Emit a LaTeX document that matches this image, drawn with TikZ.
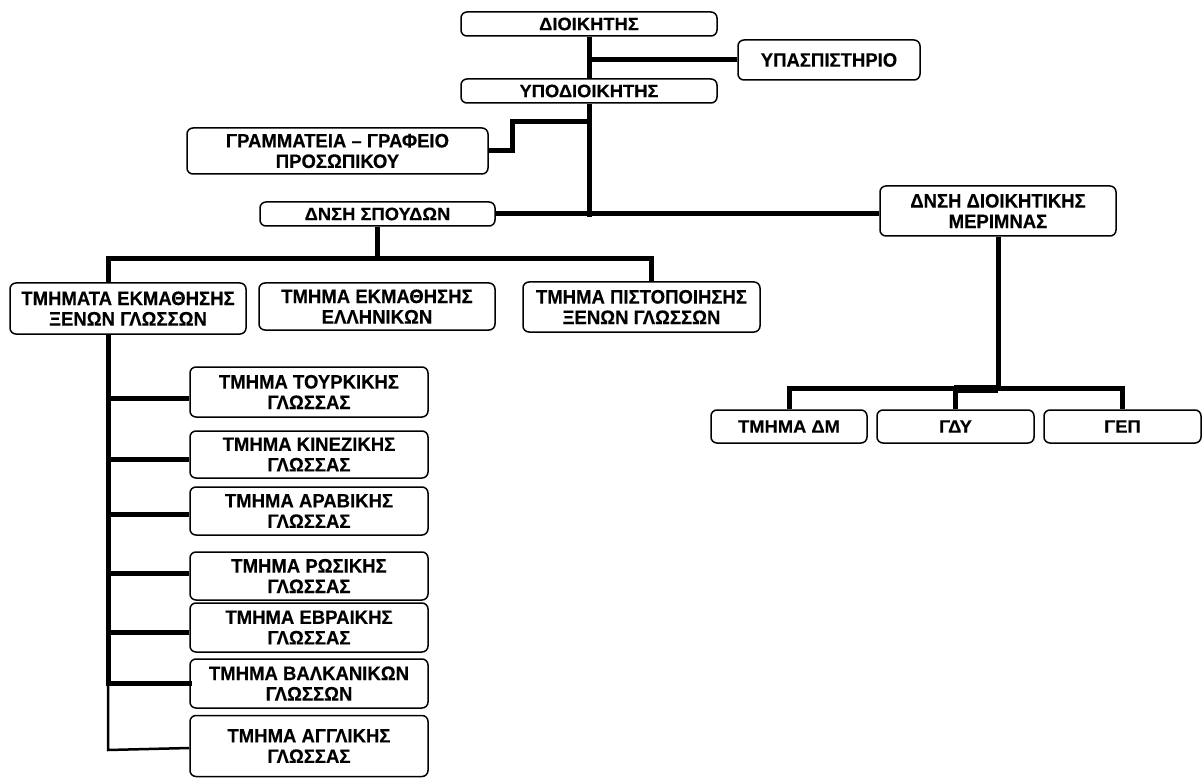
\documentclass[tikz,border=0pt]{standalone}
\usepackage{fontspec}
\setmainfont{Liberation Sans}[FakeBold=0.3]
\newfontfamily\tallfont{Liberation Sans}[FakeStretch=0.95, FakeBold=0.3]
\newfontfamily\widefont{Liberation Sans}[FakeStretch=1.02, FakeBold=0.3]
\usetikzlibrary{calc}
\begin{document}
\begin{tikzpicture}[x=1pt,y=-1pt,
  box/.style={draw, line width=1.5pt, rounded corners=6pt, inner sep=0pt, align=center,
    font=\tallfont\fontsize{19.5}{20.5}\selectfont\bfseries},
  small/.style={font=\widefont\fontsize{18}{19}\selectfont\bfseries},
  conn/.style={line width=5pt, line cap=butt},
  thinconn/.style={line width=2.5pt}]
\useasboundingbox (0,0) rectangle (1203,778);
% boxes
\node[box, small, minimum width=256pt, minimum height=24pt] (dioik) at (589,24) {ΔΙΟΙΚΗΤΗΣ};
\node[box, minimum width=182pt, minimum height=40pt] (ypasp) at (829,60) {ΥΠΑΣΠΙΣΤΗΡΙΟ};
\node[box, small, minimum width=256pt, minimum height=24pt] (ypod) at (589,91) {ΥΠΟΔΙΟΙΚΗΤΗΣ};
\node[box, minimum width=301pt, minimum height=46pt] (gram) at (337.5,151) {ΓΡΑΜΜΑΤΕΙΑ – ΓΡΑΦΕΙΟ\\ΠΡΟΣΩΠΙΚΟΥ};
\node[box, small, minimum width=235pt, minimum height=24pt] (spoud) at (377.5,214) {ΔΝΣΗ ΣΠΟΥΔΩΝ};
\node[box, minimum width=236pt, minimum height=50pt] (dmer) at (998,211) {ΔΝΣΗ ΔΙΟΙΚΗΤΙΚΗΣ\\ΜΕΡΙΜΝΑΣ};
\node[box, minimum width=236pt, minimum height=51pt] (tmxg) at (128,308.5) {ΤΜΗΜΑΤΑ ΕΚΜΑΘΗΣΗΣ\\ΞΕΝΩΝ ΓΛΩΣΣΩΝ};
\node[box, minimum width=236pt, minimum height=47pt] (ellin) at (377,306.5) {ΤΜΗΜΑ ΕΚΜΑΘΗΣΗΣ\\ΕΛΛΗΝΙΚΩΝ};
\node[box, minimum width=237pt, minimum height=50pt] (pist) at (641.5,307) {ΤΜΗΜΑ ΠΙΣΤΟΠΟΙΗΣΗΣ\\ΞΕΝΩΝ ΓΛΩΣΣΩΝ};
\node[box, small, minimum width=156pt, minimum height=33pt] (dm) at (789,426.5) {ΤΜΗΜΑ ΔΜ};
\node[box, small, minimum width=157pt, minimum height=33pt] (gdy) at (955.5,426.5) {ΓΔΥ};
\node[box, small, minimum width=157pt, minimum height=33pt] (gep) at (1122.5,426.5) {ΓΕΠ};
\node[box, minimum width=238pt, minimum height=50pt] (tour) at (309,392) {ΤΜΗΜΑ ΤΟΥΡΚΙΚΗΣ\\ΓΛΩΣΣΑΣ};
\node[box, minimum width=238pt, minimum height=47pt] (kin) at (309,454.5) {ΤΜΗΜΑ ΚΙΝΕΖΙΚΗΣ\\ΓΛΩΣΣΑΣ};
\node[box, minimum width=238pt, minimum height=48pt] (arab) at (309,511) {ΤΜΗΜΑ ΑΡΑΒΙΚΗΣ\\ΓΛΩΣΣΑΣ};
\node[box, minimum width=238pt, minimum height=48pt] (rus) at (309,576) {ΤΜΗΜΑ ΡΩΣΙΚΗΣ\\ΓΛΩΣΣΑΣ};
\node[box, minimum width=238pt, minimum height=49pt] (evr) at (309,627.5) {ΤΜΗΜΑ ΕΒΡΑΙΚΗΣ\\ΓΛΩΣΣΑΣ};
\node[box, minimum width=238pt, minimum height=49pt] (valk) at (309,683.5) {ΤΜΗΜΑ ΒΑΛΚΑΝΙΚΩΝ\\ΓΛΩΣΣΩΝ};
\node[box, minimum width=238pt, minimum height=61pt] (angl) at (309,746) {ΤΜΗΜΑ ΑΓΓΛΙΚΗΣ\\ΓΛΩΣΣΑΣ};
% top connectors
\draw[conn] (dioik.south) -- (ypod.north);
\draw[conn] (dioik.south |- ypasp.west) -- (ypasp.west);
\draw[conn] (ypod.south) -- ($(ypod.south |- spoud.east)+(0,3)$);
\draw[conn] (spoud.east) -- (dmer.west |- spoud.east);
\draw[conn, line join=miter] (gram.east) -- ++(24,0) |- ($(ypod.south)+(0,18)$);
% studies
\draw[conn] (spoud.south) -- ++(0,32) coordinate (sj);
\draw[conn, line join=miter] ($(tmxg.north)+(-20,0)$) |- (sj) -| ($(pist.north)+(9.5,0)$);
% language spine
\coordinate (spt) at ($(tmxg.south)+(-20,0)$);
\coordinate (tw) at ($(tour.west)+(0,6)$);
\coordinate (kw) at ($(kin.west)+(0,4.5)$);
\coordinate (aw) at ($(arab.west)+(0,3)$);
\coordinate (rw) at ($(rus.west)+(0,-3)$);
\coordinate (ew) at ($(evr.west)+(0,4.5)$);
\coordinate (gw) at ($(angl.west)+(0,2)$);
\draw[conn] (spt) -- (spt |- valk.west);
\draw[thinconn] (spt |- valk.west) -- ($(spt |- angl.west)+(0,4)$) -- (gw);
\draw[conn] (spt |- tw) -- (tw);
\draw[conn] (spt |- kw) -- (kw);
\draw[conn] (spt |- aw) -- (aw);
\draw[conn] (spt |- rw) -- (rw);
\draw[conn] (spt |- ew) -- (ew);
\draw[conn, line cap=rect] (spt |- valk.west) -- (valk.west);
% admin care
\draw[conn] (dmer.south) -- ++(0,152) coordinate (mj);
\draw[conn, line join=miter] (dm.north) |- (mj) -| (gep.north);
\draw[conn] (gdy.north) -- (gdy.north |- mj);
\draw[line width=8pt] ($(gdy.north |- mj)+(-1.5,0)$) -- (mj);
\end{tikzpicture}
\end{document}
